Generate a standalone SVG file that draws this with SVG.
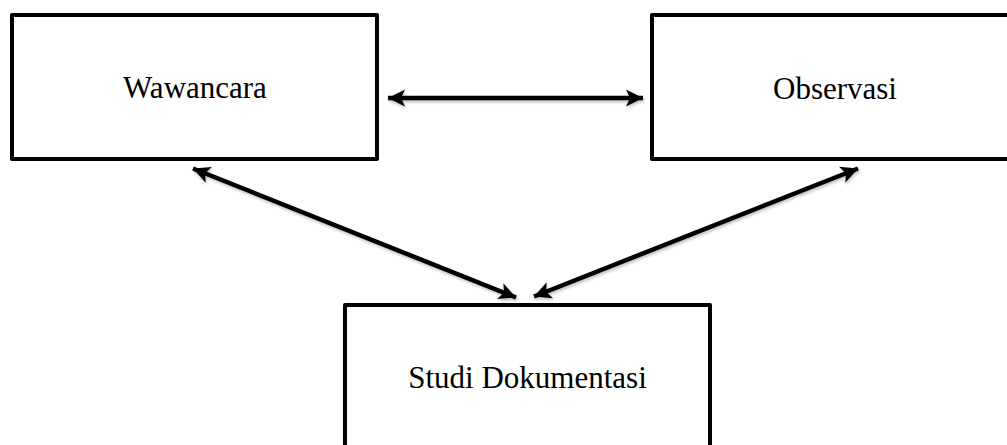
<svg xmlns="http://www.w3.org/2000/svg" width="1007" height="445" viewBox="0 0 1007 445">
  <style>
    .box { fill: #ffffff; stroke: #000000; stroke-width: 4; stroke-linejoin: round; }
    .label { font-family: "Liberation Serif", "Times New Roman", serif; font-size: 31px; fill: #000000; text-anchor: middle; }
    .conn { stroke: #000000; stroke-width: 4.5; fill: none; marker-start: url(#head); marker-end: url(#head); filter: url(#shadow); }
  </style>
  <defs>
    <marker id="head" markerUnits="userSpaceOnUse" viewBox="-19 -10 20 20" refX="0" refY="0" markerWidth="20" markerHeight="20" orient="auto-start-reverse">
      <path d="M0,0 L-17,-8.5 L-13,0 L-17,8.5 Z" fill="#000000"/>
    </marker>
    <filter id="shadow" filterUnits="userSpaceOnUse" x="0" y="0" width="1007" height="445">
      <feDropShadow dx="1" dy="2" stdDeviation="1.5" flood-color="#000000" flood-opacity="0.25"/>
    </filter>
  </defs>

  <g id="connectors">
    <line class="conn" x1="388" y1="98" x2="643" y2="98"/>
    <line class="conn" x1="193" y1="168.5" x2="516" y2="297.5"/>
    <line class="conn" x1="858" y1="168.5" x2="534" y2="296.5"/>
  </g>

  <g id="node-wawancara">
    <rect class="box" x="12" y="15" width="365" height="144"/>
    <text class="label" x="195" y="98">Wawancara</text>
  </g>

  <g id="node-observasi">
    <rect class="box" x="652" y="15" width="400" height="144"/>
    <text class="label" x="835" y="99">Observasi</text>
  </g>

  <g id="node-studi-dokumentasi">
    <rect class="box" x="345" y="305" width="365" height="200"/>
    <text class="label" x="527.5" y="388">Studi Dokumentasi</text>
  </g>
</svg>
